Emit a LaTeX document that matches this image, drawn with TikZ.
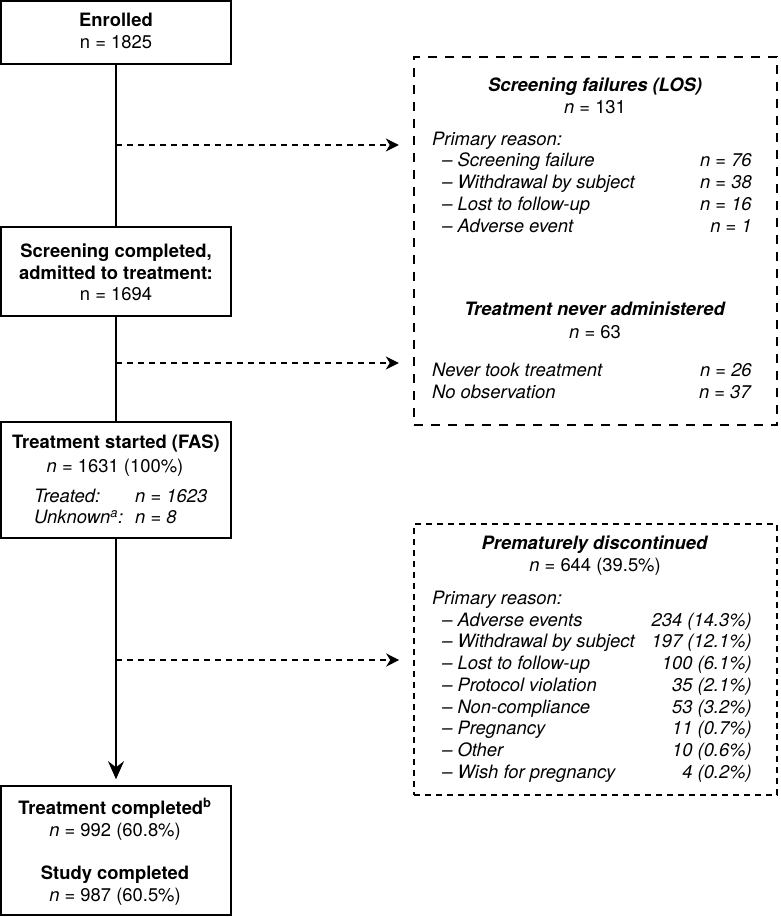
\documentclass[tikz,border=0pt]{standalone}
\usepackage{fontspec}
\setmainfont{TeX Gyre Heros}
\usetikzlibrary{arrows.meta}

\tikzset{
  solidbox/.style={draw, line width=1.6pt, inner sep=0pt},
  losbox/.style={draw, line width=2.4pt, dash pattern=on 9pt off 8pt, inner sep=0pt},
  prembox/.style={draw, line width=1.6pt, dash pattern=on 6pt off 5pt, inner sep=0pt},
  txt/.style={inner sep=0pt, font=\fontsize{18.4}{21.7}\selectfont},
  flow/.style={line width=1.5pt},
  sidearrow/.style={line width=1.5pt, dash pattern=on 6pt off 5pt,
    -{Stealth[length=13pt,width=13pt,inset=4pt]}, shorten >=14pt},
  mainarrow/.style={line width=1.5pt,
    -{Stealth[length=18pt,width=16pt,inset=6pt]}, shorten >=6pt},
}

\begin{document}
\begin{tikzpicture}[x=1pt,y=1pt,yscale=-1,xscale=1]
\path[use as bounding box] (0,0) rectangle (780,917);

%Shape: Rectangle
\node[solidbox, minimum width=230pt, minimum height=63pt] (enrol) at (116,32.5) {};
\node[solidbox, minimum width=230pt, minimum height=89pt] (screen) at (116,271.5) {};
\node[solidbox, minimum width=230pt, minimum height=116pt] (fas) at (116,480) {};
\node[solidbox, minimum width=230pt, minimum height=129pt] (done) at (116,850.5) {};
%Shape: Dashed Rectangle
\node[losbox, minimum width=363pt, minimum height=368pt] (los) at (595.5,241) {};
\node[prembox, minimum width=363pt, minimum height=271pt] (prem) at (595.5,659.5) {};

%Straight Lines
\draw[flow] (enrol) -- (screen);
\draw[flow] (screen) -- (fas);
\draw[mainarrow] (fas) -- (done);
\coordinate (b1) at (116,145);
\coordinate (b2) at (116,363);
\coordinate (b3) at (116,660);
\draw[sidearrow] (b1) -- (b1 -| los.west);
\draw[sidearrow] (b2) -- (b2 -| los.west);
\draw[sidearrow] (b3) -- (b3 -| prem.west);

% Text Node
\node[txt, anchor=base] (t1) at (116,27) {\textbf{Enrolled}};
\node[txt, anchor=base] (t2) at (116,49) {n = 1825};
% Text Node
\node[txt, anchor=base] (t3) at (116,257) {\textbf{Screening completed,}};
\node[txt, anchor=base] (t4) at (116,279) {\textbf{admitted to treatment:}};
\node[txt, anchor=base] (t5) at (116,300.5) {n = 1694};
% Text Node
\node[txt, anchor=base] (t6) at (116,448) {\textbf{Treatment started (FAS)}};
\node[txt, anchor=base] (t7) at (115,472) {\textit{n} = 1631 (100\%)};
\node[txt, anchor=base west] (t8) at (34,502) {\textit{Treated:}};
\node[txt, anchor=base west] (t9) at (135,502) {\textit{n = 1623}};
\node[txt, anchor=base west] (t10) at (34,523.5) {\textit{Unknown\textsuperscript{a}:}};
\node[txt, anchor=base west] (t11) at (135,523.5) {\textit{n = 8}};
% Text Node
\node[txt, anchor=base] (t12) at (115,814) {\textbf{Treatment completed\textsuperscript{b}}};
\node[txt, anchor=base] (t13) at (115,836) {\textit{n} = 992 (60.8\%)};
\node[txt, anchor=base] (t14) at (115,879) {\textbf{Study completed}};
\node[txt, anchor=base] (t15) at (115,901) {\textit{n} = 987 (60.5\%)};

% Text Node
\node[txt, anchor=base] (s1) at (595,92) {\textbf{\textit{Screening failures (LOS)}}};
\node[txt, anchor=base] (s2) at (595,113.5) {\textit{n} = 131};
\node[txt, anchor=base west] (s3) at (432,146) {\textit{Primary reason:}};
\node[txt, anchor=base west] (s4) at (442,167) {\textit{– Screening failure}};
\node[txt, anchor=base east] (s5) at (752,167) {\textit{n = 76}};
\node[txt, anchor=base west] (s6) at (442,189) {\textit{– Withdrawal by subject}};
\node[txt, anchor=base east] (s7) at (752,189) {\textit{n = 38}};
\node[txt, anchor=base west] (s8) at (442,211) {\textit{– Lost to follow-up}};
\node[txt, anchor=base east] (s9) at (752,211) {\textit{n = 16}};
\node[txt, anchor=base west] (s10) at (442,233) {\textit{– Adverse event}};
\node[txt, anchor=base east] (s11) at (752,233) {\textit{n = 1}};
% Text Node
\node[txt, anchor=base] (s12) at (595,315) {\textbf{\textit{Treatment never administered}}};
\node[txt, anchor=base] (s13) at (595,338) {\textit{n} = 63};
\node[txt, anchor=base west] (s14) at (432,376) {\textit{Never took treatment}};
\node[txt, anchor=base east] (s15) at (752,376) {\textit{n = 26}};
\node[txt, anchor=base west] (s16) at (432,398) {\textit{No observation}};
\node[txt, anchor=base east] (s17) at (752,398) {\textit{n = 37}};

% Text Node
\node[txt, anchor=base] (p1) at (595,549) {\textbf{\textit{Prematurely discontinued}}};
\node[txt, anchor=base] (p2) at (595,571) {\textit{n} = 644 (39.5\%)};
\node[txt, anchor=base west] (p3) at (432,604) {\textit{Primary reason:}};
\node[txt, anchor=base west] (p4) at (442,626) {\textit{– Adverse events}};
\node[txt, anchor=base east] (p5) at (752,626) {\textit{234 (14.3\%)}};
\node[txt, anchor=base west] (p6) at (442,647.5) {\textit{– Withdrawal by subject}};
\node[txt, anchor=base east] (p7) at (752,647.5) {\textit{197 (12.1\%)}};
\node[txt, anchor=base west] (p8) at (442,669) {\textit{– Lost to follow-up}};
\node[txt, anchor=base east] (p9) at (752,669) {\textit{100 (6.1\%)}};
\node[txt, anchor=base west] (p10) at (442,691) {\textit{– Protocol violation}};
\node[txt, anchor=base east] (p11) at (752,691) {\textit{35 (2.1\%)}};
\node[txt, anchor=base west] (p12) at (442,713) {\textit{– Non-compliance}};
\node[txt, anchor=base east] (p13) at (752,713) {\textit{53 (3.2\%)}};
\node[txt, anchor=base west] (p14) at (442,734.5) {\textit{– Pregnancy}};
\node[txt, anchor=base east] (p15) at (752,734.5) {\textit{11 (0.7\%)}};
\node[txt, anchor=base west] (p16) at (442,756) {\textit{– Other}};
\node[txt, anchor=base east] (p17) at (752,756) {\textit{10 (0.6\%)}};
\node[txt, anchor=base west] (p18) at (442,778) {\textit{– Wish for pregnancy}};
\node[txt, anchor=base east] (p19) at (752,778) {\textit{4 (0.2\%)}};
\end{tikzpicture}
\end{document}
